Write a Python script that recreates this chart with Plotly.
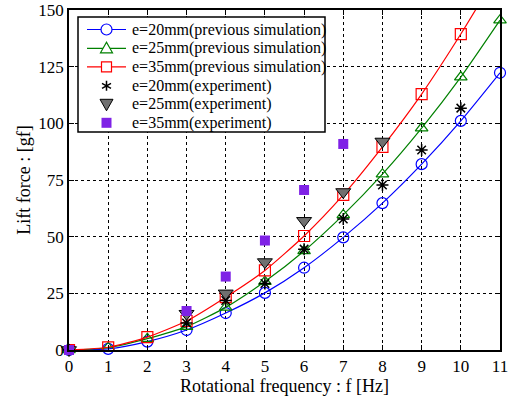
import plotly.graph_objects as go

freq = [0, 1, 2, 3, 4, 5, 6, 7, 8, 9, 10, 11]
sim_e20 = [0, 0.5, 3.7, 8.8, 16.3, 25.2, 36.3, 49.7, 64.8, 82.0, 101.1, 122.3]
sim_e25 = [0, 1.0, 5.0, 10.3, 18.8, 30.2, 43.7, 59.6, 77.6, 97.9, 120.4, 145.5]
sim_e35 = [0, 1.2, 5.7, 12.8, 23.3, 35.1, 50.3, 68.4, 89.6, 112.9, 139.4, 168.0]

exp20_f = [0, 3, 4, 5, 6, 7, 8, 9, 10]
exp20_v = [0, 11.9, 21.8, 29.3, 44.5, 57.8, 72.8, 88.2, 106.7]
exp25_f = [0, 3, 4, 5, 6, 7, 8]
exp25_v = [0, 16.0, 25.0, 38.8, 57.0, 69.7, 92.0]
exp35_f = [0, 3, 4, 5, 6, 7]
exp35_v = [0, 17.2, 32.4, 48.3, 70.6, 90.9]

legend_labels = [
    "e=20mm(previous simulation)",
    "e=25mm(previous simulation)",
    "e=35mm(previous simulation)",
    "e=20mm(experiment)",
    "e=25mm(experiment)",
    "e=35mm(experiment)",
]

x_ticks = list(range(0, 12))
y_ticks = [0, 25, 50, 75, 100, 125, 150]

serif = "Liberation Serif"
BLUE, GREEN, RED = "#0000ff", "#008000", "#ff0000"
GRAY, PURPLE = "#707070", "#7f22e6"

fig = go.Figure()
sims = [
    (legend_labels[0], sim_e20, BLUE, "circle-open", False),
    (legend_labels[1], sim_e25, GREEN, "triangle-up-open", False),
    (legend_labels[2], sim_e35, RED, "square-open", True),
]
for name, vals, col, sym, clip in sims:
    fig.add_trace(go.Scatter(
        x=freq, y=vals, name=name, mode="lines+markers", cliponaxis=clip,
        line=dict(color=col, width=1.2, shape="spline", smoothing=0.6),
        marker=dict(symbol=sym, size=11, color=col, line=dict(width=1.2, color=col)),
    ))

fig.add_trace(go.Scatter(
    x=exp20_f, y=exp20_v, name=legend_labels[3], mode="markers", cliponaxis=False,
    marker=dict(symbol="asterisk-open", size=10, color="black", line=dict(width=1.5, color="black")),
))
fig.add_trace(go.Scatter(
    x=exp25_f, y=exp25_v, name=legend_labels[4], mode="markers", cliponaxis=False,
    marker=dict(symbol="triangle-down", size=13, color=GRAY, line=dict(width=1, color="black")),
))
fig.add_trace(go.Scatter(
    x=exp35_f, y=exp35_v, name=legend_labels[5], mode="markers", cliponaxis=False,
    marker=dict(symbol="square", size=10, color=PURPLE, line=dict(width=0)),
))

# ---- custom legend (drawn in plot-fraction coordinates) ----
ML, MR, MT, MB = 69, 10, 10, 46
W, H = 510, 396
PW, PH = W - ML - MR, H - MT - MB


def fx(px):
    return (px - ML) / PW


def fy(py):
    return (H - MB - py) / PH


shapes = [dict(type="rect", xref="paper", yref="paper",
               x0=fx(78), x1=fx(325), y0=fy(132), y1=fy(17),
               fillcolor="white", line=dict(color="black", width=1.5), layer="above")]
annotations = []
row_y = [29.5, 48.3, 66.8, 85.8, 104.3, 122.8]
mx = 106.5


def pix_shape(py, **kw):
    d = dict(xref="paper", yref="paper", xsizemode="pixel", ysizemode="pixel",
             xanchor=fx(mx), yanchor=fy(py), layer="above")
    d.update(kw)
    return d


for i, py in enumerate(row_y):
    if i < 3:
        col = [BLUE, GREEN, RED][i]
        shapes.append(dict(type="line", xref="paper", yref="paper",
                           x0=fx(87), x1=fx(126), y0=fy(py), y1=fy(py),
                           line=dict(color=col, width=1.2), layer="above"))
    if i == 0:
        shapes.append(pix_shape(py, type="circle", x0=-5.5, x1=5.5, y0=-5.5, y1=5.5,
                                fillcolor="white", line=dict(color=BLUE, width=1.2)))
    elif i == 1:
        shapes.append(pix_shape(py, type="path", path="M-6,-4.5 L6,-4.5 L0,6 Z",
                                fillcolor="white", line=dict(color=GREEN, width=1.2)))
    elif i == 2:
        shapes.append(pix_shape(py, type="rect", x0=-5, x1=5, y0=-5, y1=5,
                                fillcolor="white", line=dict(color=RED, width=1.2)))
    elif i == 3:
        shapes.append(pix_shape(py, type="path",
                                path="M0,-5 L0,5 M-4.5,-2.5 L4.5,2.5 M-4.5,2.5 L4.5,-2.5",
                                line=dict(color="black", width=1.5)))
    elif i == 4:
        shapes.append(pix_shape(py, type="path", path="M-6.5,5 L6.5,5 L0,-6.5 Z",
                                fillcolor=GRAY, line=dict(color="black", width=1)))
    else:
        shapes.append(pix_shape(py, type="rect", x0=-5, x1=5, y0=-5, y1=5,
                                fillcolor=PURPLE, line=dict(width=0)))
    annotations.append(dict(xref="paper", yref="paper", x=fx(130), y=fy(py),
                            xanchor="left", yanchor="middle", showarrow=False,
                            text=legend_labels[i],
                            font=dict(family=serif, size=16, color="black")))

axis_common = dict(
    showline=True, linecolor="black", linewidth=1.5, mirror="allticks",
    ticks="inside", ticklen=5, tickcolor="black", tickwidth=1,
    showgrid=True, gridcolor="black", griddash="dot", gridwidth=0.8,
    zeroline=False, automargin=False,
    tickfont=dict(family=serif, size=17, color="black"),
)

fig.update_layout(
    width=W, height=H,
    margin=dict(l=ML, r=MR, t=MT, b=MB),
    paper_bgcolor="white", plot_bgcolor="white",
    font=dict(family=serif, color="black"),
    showlegend=False,
    shapes=shapes, annotations=annotations,
    xaxis=dict(range=[0, 11], tickvals=x_ticks,
               title=dict(text="Rotational frequency : f [Hz]", font=dict(family=serif, size=18), standoff=1),
               **axis_common),
    yaxis=dict(range=[0, 150], tickvals=y_ticks,
               title=dict(text="Lift force : [gf]", font=dict(family=serif, size=18), standoff=3),
               **axis_common),
)

fig.write_html("out.html", config={"displayModeBar": False},
               post_script="document.body.style.margin='0';document.body.style.overflow='hidden';")
